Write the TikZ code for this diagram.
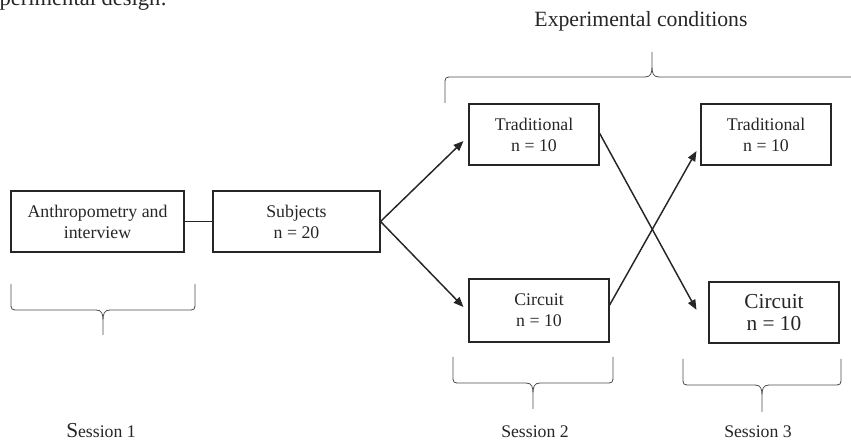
\documentclass[tikz,border=0pt]{standalone}
\usepackage{fontspec}
\setmainfont{Liberation Serif}
\usetikzlibrary{arrows.meta}
\tikzstyle{box}=[rectangle,draw=black!85,line width=0.8pt,minimum height=45.75pt,
  align=center,inner sep=0pt,text=black!85,font=\fontsize{13.35}{15.75}\selectfont]
\tikzstyle{flow}=[-{Triangle[length=7.5pt,width=6pt]},line width=1.1pt,draw=black!85]
\tikzstyle{link}=[line width=1.1pt,draw=black!85]
\tikzstyle{brace}=[line width=0.6pt,draw=black!70]
\tikzstyle{lbl}=[anchor=base,inner sep=0pt,text=black!85,
  font=\fontsize{13.3}{16}\selectfont]

% curly brace: [extra options]{centre}{half width}{arm}{tip}
\newcommand{\sessbrace}[5][]{%
  \begin{scope}[shift={(#2)},#1]
    \draw[brace] (-#3,-#4) -- (-#3,-8) .. controls (-#3,0) .. (-#3+8,0) -- (-7,0)
      .. controls (-1,0) and (0,4) .. (0,11) -- (0,#5)
      (0,11) .. controls (0,4) and (1,0) .. (7,0) -- (#3-8,0)
      .. controls (#3,0) .. (#3,-8) -- (#3,-#4);
  \end{scope}}

\begin{document}
\begin{tikzpicture}[x=0.75pt,y=-0.75pt]
  \useasboundingbox (0,0) rectangle (851,441);

  % caption, cut off at the top
  \node[lbl,anchor=base east,font=\fontsize{16.9}{20}\selectfont] (cap) at (167,6)
    {Experimental design:};

  \node[box,minimum width=129.75pt] (anthro) at (97.5,221.5) {Anthropometry and\\interview};
  \node[box,minimum width=125.25pt] (subj) at (296.5,221.5) {Subjects\\n = 20};
  \node[box,minimum width=97.5pt] (trad1) at (534,134.5) {Traditional\\n = 10};
  \node[box,minimum width=105pt,minimum height=47.25pt] (circ1) at (539,310.5) {Circuit\\n = 10};
  \node[box,minimum width=97.5pt] (trad2) at (766,134.5) {Traditional\\n = 10};
  \node[box,minimum width=97.5pt,font=\fontsize{16}{17}\selectfont] (circ2) at (774,312.5)
    {Circuit\\n = 10};

  \draw[link] (anthro) -- (subj);
  \draw[flow] (subj.east) -- ([xshift=-3.75pt,yshift=-4.9pt]trad1.west);
  \draw[flow] (subj.east) -- ([xshift=-3.75pt,yshift=2.6pt]circ1.west);
  \draw[flow] ([yshift=1pt]trad1.east) -- ([xshift=-9pt,yshift=2pt]circ2.west);
  \draw[flow] ([yshift=4pt]circ1.east) -- ([xshift=-3pt,yshift=-12.4pt]trad2.west);

  % braces
  \sessbrace{103,310}{92}{26}{25}
  \sessbrace{533,383}{80}{26}{26}
  \sessbrace{762,385}{79}{26}{27}
  \sessbrace[yscale=-1]{652,77}{207}{26}{25}

  \node[lbl,font=\fontsize{16.3}{20}\selectfont] (expcond) at (641,27) {Experimental conditions};
  \node[lbl] (sess1) at (101,438) {{\fontsize{16}{16}\selectfont S}ession 1};
  \node[lbl] (sess2) at (535,438) {Session 2};
  \node[lbl] (sess3) at (758,438) {Session 3};
\end{tikzpicture}
\end{document}
